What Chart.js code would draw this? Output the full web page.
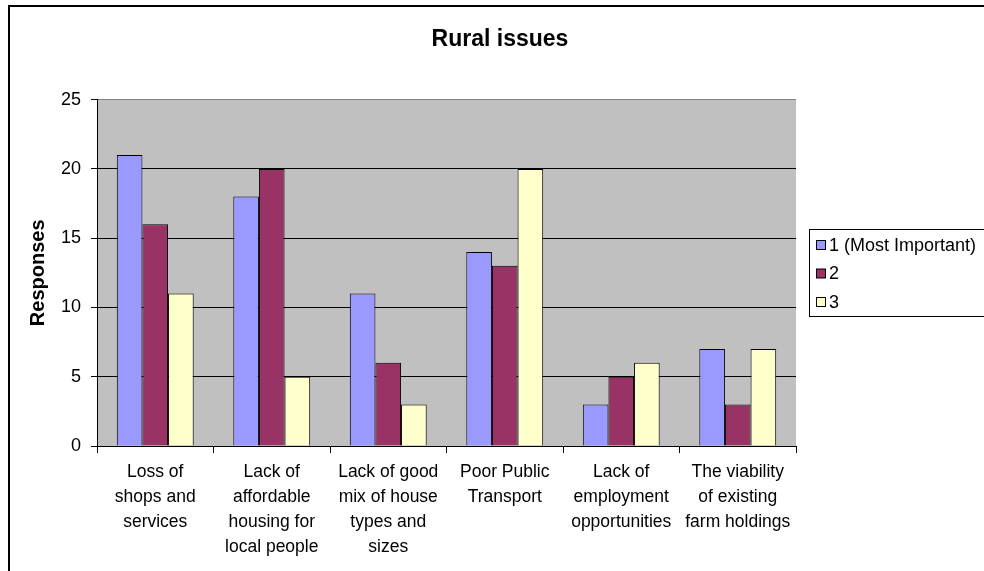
<!DOCTYPE html>
<html>
<head>
<meta charset="utf-8">
<script src="https://cdn.jsdelivr.net/npm/chart.js@4.4.1/dist/chart.umd.min.js"></script>
<style>
  html, body { margin: 0; padding: 0; background: #fff; }
  canvas { display: block; }
</style>
</head>
<body>
<canvas id="myChart" width="984" height="571"></canvas>
<script>
// chart data
const categories = [
  ["Loss of", "shops and", "services"],
  ["Lack of", "affordable", "housing for", "local people"],
  ["Lack of good", "mix of house", "types and", "sizes"],
  ["Poor Public", "Transport"],
  ["Lack of", "employment", "opportunities"],
  ["The viability", "of existing", "farm holdings"],
];
const seriesNames = ["1 (Most Important)", "2", "3"];
const important1 = [21, 18, 11, 14, 3, 7];
const important2 = [16, 20, 6, 13, 5, 3];
const important3 = [11, 5, 3, 20, 6, 7];
const yTicks = [0, 5, 10, 15, 20, 25];

const FONT = "'Liberation Sans', Arial, sans-serif";
const colors = ["#9999FF", "#993366", "#FFFFCC"];

// grey plot area, outer frame and boxed legend like the old Excel chart
const excelLook = {
  id: "excelLook",
  beforeDraw(chart) {
    const { ctx, chartArea: a } = chart;
    ctx.save();
    ctx.fillStyle = "#C0C0C0";
    ctx.fillRect(a.left, a.top, a.right - a.left, a.bottom - a.top);
    ctx.restore();
  },
  afterDraw(chart) {
    const ctx = chart.ctx;
    ctx.save();
    // outer frame
    ctx.strokeStyle = "#000";
    ctx.lineWidth = 2;
    ctx.strokeRect(9, 6, 1000, 600);
    // legend
    ctx.lineWidth = 1;
    ctx.strokeRect(809.5, 229.5, 200, 87);
    ctx.font = "18px " + FONT;
    ctx.textBaseline = "middle";
    chart.data.datasets.forEach(function (ds, i) {
      const y = 245 + i * 28.5;
      ctx.fillStyle = ds.backgroundColor;
      ctx.fillRect(816.5, y - 4.5, 9, 9);
      ctx.strokeStyle = "#000";
      ctx.strokeRect(816.5, y - 4.5, 9, 9);
      ctx.fillStyle = "#000";
      ctx.fillText(ds.label, 829, y + 1);
    });
    ctx.restore();
  },
};

const ctx = document.getElementById("myChart").getContext("2d");

new Chart(ctx, {
  type: "bar",
  data: {
    labels: categories,
    datasets: [
      { label: seriesNames[0], data: important1, backgroundColor: colors[0] },
      { label: seriesNames[1], data: important2, backgroundColor: colors[1] },
      { label: seriesNames[2], data: important3, backgroundColor: colors[2] },
    ].map(function (d) {
      return Object.assign(d, {
        borderColor: "#000",
        borderWidth: 1,
        categoryPercentage: 0.66,
        barPercentage: 1,
      });
    }),
  },
  options: {
    responsive: false,
    animation: false,
    devicePixelRatio: 1,
    layout: { padding: { left: 16, right: 0, top: 0, bottom: 0 } },
    scales: {
      x: {
        grid: {
          offset: true,
          drawOnChartArea: false,
          drawTicks: true,
          tickLength: 7,
          color: "#000",
        },
        border: { color: "#000", width: 1 },
        ticks: {
          color: "#000",
          maxRotation: 0,
          autoSkip: false,
          padding: 7,
          font: { family: FONT, size: 17.5, lineHeight: 1.42 },
        },
        afterFit: function (s) { s.height = 125; },
      },
      y: {
        min: 0,
        max: 25,
        afterBuildTicks: function (s) {
          s.ticks = yTicks.map(function (v) { return { value: v }; });
        },
        grid: {
          color: function (c) { return c.tick && c.tick.value === 25 ? "#808080" : "#000"; },
          tickColor: "#000",
          tickLength: 6,
        },
        border: { color: "#000", width: 1 },
        ticks: {
          color: "#000",
          padding: 10,
          font: { family: FONT, size: 18 },
        },
        title: {
          display: true,
          text: "Responses",
          color: "#000",
          padding: { top: 10, bottom: 0 },
          font: { family: FONT, size: 20, weight: "bold" },
        },
        afterFit: function (s) { s.width = 81; },
      },
      // empty scale that reserves the space where the legend box sits
      spacer: {
        position: "right",
        display: true,
        grid: { display: false },
        border: { display: false },
        ticks: { display: false },
        afterFit: function (s) { s.width = 188; },
      },
    },
    plugins: {
      legend: { display: false },
      tooltip: { enabled: false },
      title: {
        display: true,
        text: "Rural issues",
        color: "#000",
        padding: { top: 26, bottom: 46 },
        font: { family: FONT, size: 23, weight: "bold" },
      },
    },
  },
  plugins: [excelLook],
});
</script>
</body>
</html>
